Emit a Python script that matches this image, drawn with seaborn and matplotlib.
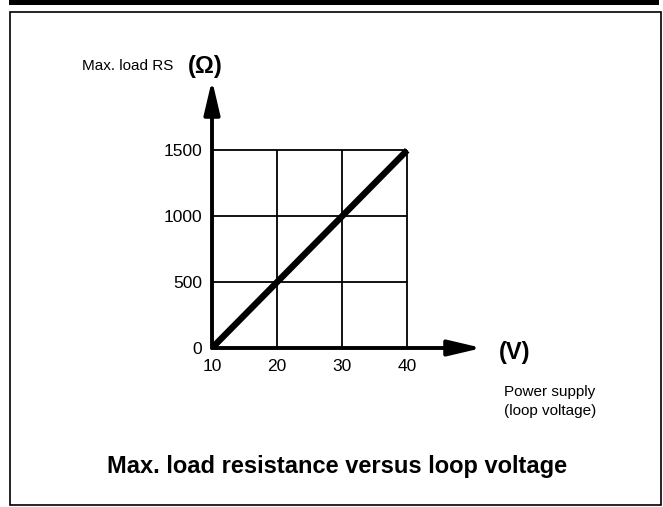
import matplotlib
matplotlib.use("Agg")
import matplotlib.pyplot as plt
import seaborn as sns
import pandas as pd
from matplotlib.patches import Rectangle, ArrowStyle

# Data
voltage = [10, 40]
max_load = [0, 1500]
x_ticks = [10, 20, 30, 40]
y_ticks = [0, 500, 1000, 1500]

sns.set_style("white")
plt.rcParams['font.family'] = ['Liberation Sans', 'DejaVu Sans']
plt.rcParams['text.color'] = 'black'

W, H = 663, 507
fig = plt.figure(figsize=(W / 100, H / 100), dpi=100)

def fx(px):
    return px / W

def fy(py):
    return 1 - py / H

# Axes placement (pixel: left 212, right 482, top 80, bottom 348)
ax = fig.add_axes([fx(212), fy(348), fx(482) - fx(212), fy(80) - fy(348)])
ax.set_xlim(10, 51.5)
ax.set_ylim(0, 2033)
for s in ax.spines.values():
    s.set_visible(False)
ax.set_facecolor("none")

# Grid (limited to data region)
ax.hlines(y_ticks[1:], x_ticks[0], x_ticks[-1], colors="black", lw=1.3, zorder=1)
ax.vlines(x_ticks[1:], y_ticks[0], y_ticks[-1], colors="black", lw=1.3, zorder=1)

# Main line
df = pd.DataFrame({"V": voltage, "R": max_load})
sns.lineplot(data=df, x="V", y="R", ax=ax, color="black", lw=4.6,
             solid_capstyle="butt", zorder=3)
ax.set_xlabel("")
ax.set_ylabel("")

# Axis arrows
style = ArrowStyle("-|>", head_length=0.85, head_width=0.2)
for tip in [(10, 2033), (51.5, 0)]:
    ax.annotate("", xy=tip, xytext=(10, 0),
                arrowprops=dict(arrowstyle=style, lw=2.8, color="black",
                                mutation_scale=24, shrinkA=0, shrinkB=0),
                annotation_clip=False, zorder=4)

ax.set_xticks(x_ticks)
ax.set_yticks(y_ticks)
ax.set_xticklabels([str(v) for v in x_ticks])
ax.set_yticklabels([str(v) for v in y_ticks])
ax.tick_params(axis="both", length=0, labelsize=12.5, colors="black")
ax.tick_params(axis="x", pad=8)
ax.tick_params(axis="y", pad=7)

# Texts
fig.text(fx(82), fy(66), "Max. load RS", fontsize=11, ha="left", va="center")
fig.text(fx(205), fy(66), "(\u03a9)", fontsize=17, fontweight="bold", ha="center", va="center")
fig.text(fx(515), fy(353), "(V)", fontsize=17, fontweight="bold", ha="center", va="center")
fig.text(fx(504), fy(392), "Power supply", fontsize=11, ha="left", va="center")
fig.text(fx(504), fy(411), "(loop voltage)", fontsize=11, ha="left", va="center")
fig.text(fx(337), fy(466), "Max. load resistance versus loop voltage",
         fontsize=17, fontweight="bold", ha="center", va="center")

# Frame and top bar
fig.patches.append(Rectangle((fx(10), fy(505)), fx(661) - fx(10), fy(12) - fy(505),
                             transform=fig.transFigure, fill=False,
                             edgecolor="black", lw=1.2))
fig.patches.append(Rectangle((fx(9), fy(5)), fx(659) - fx(9), fy(0) - fy(5),
                             transform=fig.transFigure, facecolor="black",
                             edgecolor="none"))

fig.savefig("out.png", dpi=100)
